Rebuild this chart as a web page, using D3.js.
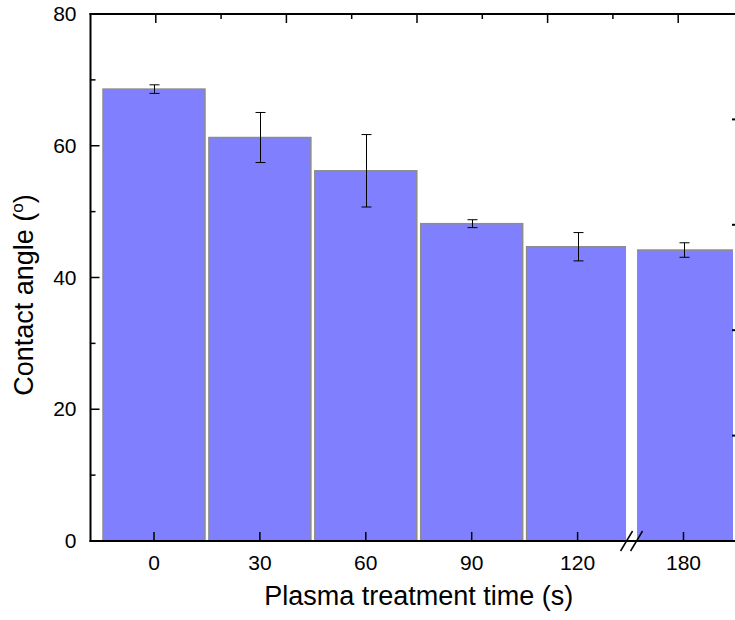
<!doctype html>
<html>
<head>
<meta charset="utf-8">
<title>Contact angle</title>
<script src="https://d3js.org/d3.v7.min.js"></script>
<style>
  body { margin: 0; background: #fff; }
  text { font-family: "Liberation Sans", Arial, sans-serif; fill: #000; }
</style>
</head>
<body>
<div id="chart"></div>
<script>
const categories = ["0", "30", "60", "90", "120", "180"];
const angles = [68.6, 61.25, 56.2, 48.17, 44.67, 44.17];
const errors = [0.65, 3.8, 5.5, 0.6, 2.15, 1.1];
const yTicks = [0, 20, 40, 60, 80];

const w = 735, h = 620;
const padL = 90.5, padR = 735, padT = 14, padB = 541;

const svg = d3.select("#chart").append("svg")
    .attr("width", w).attr("height", h);

const y = d3.scaleLinear().domain([0, 80]).range([padB, padT]);
// category centres, one step per category
const x = d3.scaleLinear().domain([0, 5]).range([154, 683.5]);
const step = x(1) - x(0);
const barW = step * 0.963;
const breakX = (x(4) + x(5)) / 2 + 1;

// clip out the axis break gap
const defs = svg.append("defs");
const clip = defs.append("clipPath").attr("id", "plotclip");
clip.append("rect").attr("x", padL).attr("y", padT)
    .attr("width", breakX - 5.5 - padL).attr("height", padB - padT);
clip.append("rect").attr("x", breakX + 5.5).attr("y", padT)
    .attr("width", padR - 2 - breakX - 5.5).attr("height", padB - padT);

const plot = svg.append("g").attr("clip-path", "url(#plotclip)");

plot.selectAll("rect.bar")
    .data(angles)
    .enter()
    .append("rect")
    .attr("class", "bar")
    .attr("x", (d, i) => x(i) - barW / 2)
    .attr("y", d => y(d))
    .attr("width", barW)
    .attr("height", d => y(0) - y(d))
    .attr("fill", "#8080ff")
    .attr("stroke", "#8c8c8c")
    .attr("stroke-width", 1.5);

// error bars
const eb = svg.append("g").attr("stroke", "#000").attr("stroke-width", 1);
angles.forEach((d, i) => {
    const cx = Math.round(x(i)) + 0.5;
    eb.append("line").attr("x1", cx).attr("x2", cx)
        .attr("y1", y(d + errors[i])).attr("y2", y(d - errors[i]));
    [d + errors[i], d - errors[i]].forEach(v => {
        eb.append("line").attr("x1", cx - 5).attr("x2", cx + 5)
            .attr("y1", y(v)).attr("y2", y(v));
    });
});

// left axis labels
const yAxis = d3.axisLeft(y).tickValues(yTicks).tickSize(0).tickPadding(14)
    .tickFormat(d3.format("d"));
const gy = svg.append("g").attr("transform", `translate(${padL},0)`).call(yAxis);
gy.attr("font-family", null).attr("font-size", null);
gy.select(".domain").remove();
gy.selectAll("text").style("font-size", "21px");

const axes = svg.append("g").attr("stroke", "#000").attr("fill", "none");
// left inward ticks
d3.range(0, 81, 10).forEach(v => {
    const len = v % 20 === 0 ? 9 : 5;
    axes.append("line").attr("x1", padL).attr("x2", padL + len)
        .attr("y1", y(v)).attr("y2", y(v)).attr("stroke-width", 1.5);
});

// right axis ticks (own scale)
const yR = d3.scaleLinear().domain([0, 5]).range([padB, padT]);
yR.ticks(5).forEach(v => {
    axes.append("line").attr("x1", padR - 3).attr("x2", padR)
        .attr("y1", yR(v)).attr("y2", yR(v)).attr("stroke-width", 2);
});

// top axis ticks (own scale)
const xT = d3.scaleLinear().domain([0, 10]).range([padL, padL + 653]);
d3.range(1, 10).forEach(v => {
    const len = v % 2 === 1 ? 9 : 5;
    axes.append("line").attr("x1", xT(v)).attr("x2", xT(v))
        .attr("y1", padT).attr("y2", padT + len).attr("stroke-width", 1.5);
});

// frame
axes.append("line").attr("x1", padL).attr("x2", padL)
    .attr("y1", padT - 1).attr("y2", padB + 1).attr("stroke-width", 2);
axes.append("line").attr("x1", padL - 1).attr("x2", padR)
    .attr("y1", padT).attr("y2", padT).attr("stroke-width", 2);
axes.append("line").attr("x1", padL - 1).attr("x2", padR)
    .attr("y1", padB).attr("y2", padB).attr("stroke-width", 2);

// bottom axis ticks and labels
categories.forEach((c, i) => {
    axes.append("line").attr("x1", x(i)).attr("x2", x(i))
        .attr("y1", padB).attr("y2", padB - 9).attr("stroke-width", 1.5);
});
svg.append("g").selectAll("text")
    .data(categories)
    .enter()
    .append("text")
    .attr("x", (d, i) => x(i))
    .attr("y", 570)
    .attr("text-anchor", "middle")
    .style("font-size", "21px")
    .text(d => d);

// break marks
[-5, 5].forEach(dx => {
    axes.append("line")
        .attr("x1", breakX + dx - 6).attr("y1", padB + 10)
        .attr("x2", breakX + dx + 6).attr("y2", padB - 10)
        .attr("stroke-width", 1.5);
});

// axis titles
svg.append("text")
    .attr("x", (padL + padR) / 2 + 6)
    .attr("y", 605)
    .attr("text-anchor", "middle")
    .style("font-size", "27px")
    .text("Plasma treatment time (s)");

const yl = svg.append("text")
    .attr("transform", `translate(33,295) rotate(-90)`)
    .attr("text-anchor", "middle")
    .style("font-size", "27px");
yl.append("tspan").text("Contact angle (");
yl.append("tspan").attr("dy", -10).style("font-size", "17px").text("o");
yl.append("tspan").attr("dy", 10).text(")");
</script>
</body>
</html>
